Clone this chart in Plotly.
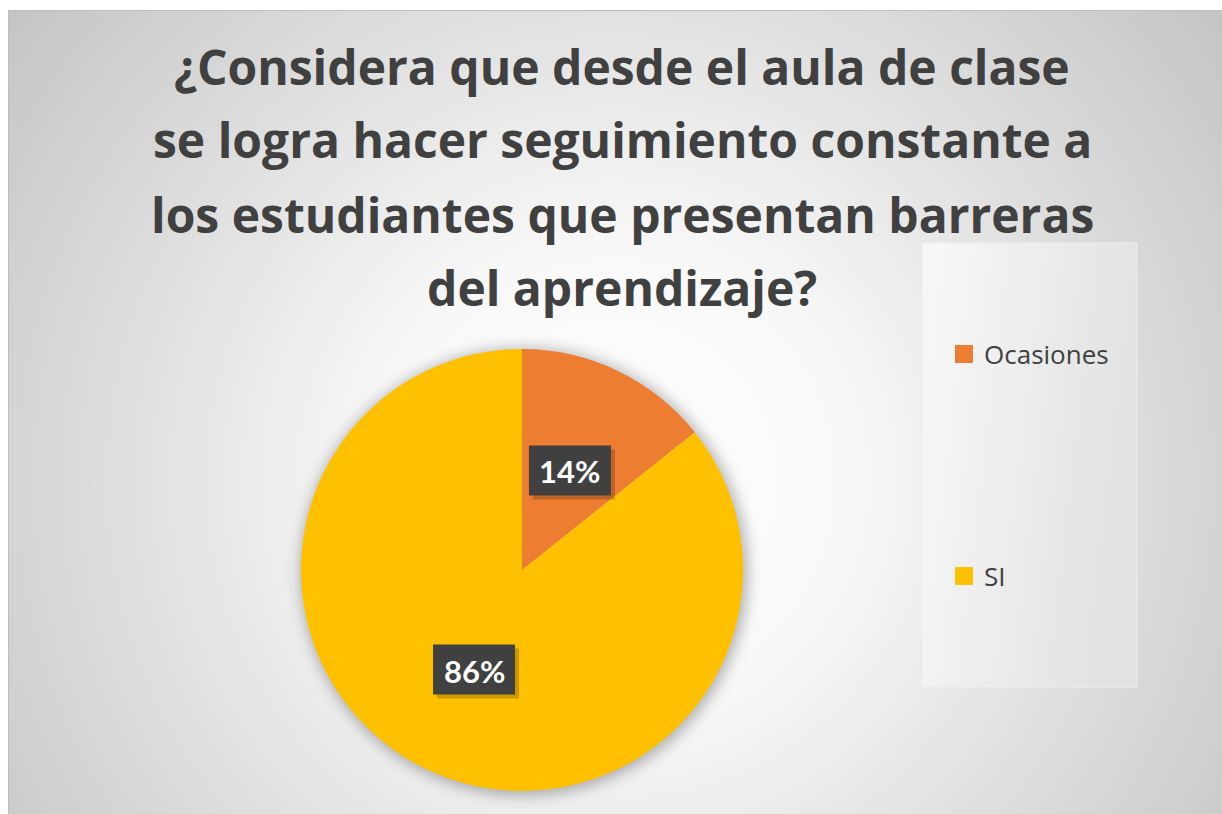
import base64
import math
import plotly.graph_objects as go

# ---- data ----
categories = ["Ocasiones", "SI"]
values = [1, 6]
colors = ["#ED7D31", "#FFC000"]
title_lines = [
    "¿Considera que desde el aula de clase",
    "se logra hacer seguimiento constante a",
    "los estudiantes que presentan barreras",
    "del aprendizaje?",
]

W, H = 1222, 814
CX, CY, R = 522, 570, 221  # pie centre / radius in pixels
TEXT = "#404040"

# ---- background (gradient card, legend box, pie shadow) as an SVG image ----
LX0, LY0, LX1, LY1 = 922, 243, 1137, 687
svg = f'''<svg xmlns="http://www.w3.org/2000/svg" width="{W}" height="{H}" viewBox="0 0 {W} {H}">
<defs>
<radialGradient id="bg" gradientUnits="userSpaceOnUse" cx="615" cy="480" r="770">
<stop offset="0" stop-color="#ffffff"/>
<stop offset="0.3" stop-color="#f8f8f8"/>
<stop offset="1" stop-color="#c4c4c4"/>
</radialGradient>
<linearGradient id="lg" x1="0" y1="0" x2="1" y2="0.25">
<stop offset="0" stop-color="#f8f8f8"/>
<stop offset="1" stop-color="#e2e2e2"/>
</linearGradient>
<filter id="blur" x="-30%" y="-30%" width="160%" height="160%"><feGaussianBlur stdDeviation="7"/></filter>
<filter id="blur2" x="-30%" y="-30%" width="160%" height="160%"><feGaussianBlur stdDeviation="2"/></filter>
</defs>
<rect width="{W}" height="{H}" fill="#ffffff"/>
<rect x="8" y="10" width="{W-8}" height="{H-10}" fill="url(#bg)"/>
<line x1="8" y1="10.5" x2="{W}" y2="10.5" stroke="#bdbdbd" stroke-width="1"/>
<line x1="8.5" y1="10" x2="8.5" y2="{H}" stroke="#bdbdbd" stroke-width="1"/>
<rect x="{LX0}" y="{LY0}" width="{LX1-LX0}" height="{LY1-LY0}" fill="url(#lg)" stroke="#eeeeee" stroke-width="1"/>
<circle cx="{CX+2}" cy="{CY+2}" r="{R+3}" fill="rgba(0,0,0,0.28)" filter="url(#blur)"/>
</svg>'''
svg_uri = "data:image/svg+xml;base64," + base64.b64encode(svg.encode("utf-8")).decode("ascii")

fig = go.Figure()
fig.add_trace(go.Pie(
    labels=categories,
    values=values,
    marker=dict(colors=colors, line=dict(width=0)),
    sort=False,
    direction="clockwise",
    rotation=0,
    textinfo="none",
    hoverinfo="label+percent",
    showlegend=False,
    domain=dict(x=[(CX - R) / W, (CX + R) / W], y=[1 - (CY + R) / H, 1 - (CY - R) / H]),
))

annotations = []
shapes = []

# title lines
title_y = [67, 140, 214, 287]
for line, ty in zip(title_lines, title_y):
    annotations.append(dict(
        text=f"<b>{line}</b>", x=622 / W, y=1 - ty / H, xref="paper", yref="paper",
        xanchor="center", yanchor="middle", showarrow=False,
        font=dict(family="Open Sans", size=48, color=TEXT),
    ))

# data labels at mid-angle of each slice, half radius out, in dark boxes
BW, BH = 82, 50
total = sum(values)
cum = 0
for v in values:
    mid = (cum + v / 2) / total * 2 * math.pi
    cum += v
    px = CX + 0.5 * R * math.sin(mid)
    py = CY - 0.5 * R * math.cos(mid)
    pct = f"{round(100 * v / total)}%"
    # shadow
    shapes.append(dict(type="rect", xref="paper", yref="paper", layer="above",
                       x0=(px - BW / 2 + 4) / W, x1=(px + BW / 2 + 4) / W,
                       y0=1 - (py + BH / 2 + 4) / H, y1=1 - (py - BH / 2 + 4) / H,
                       fillcolor="rgba(0,0,0,0.2)", line=dict(width=0)))
    # box
    shapes.append(dict(type="rect", xref="paper", yref="paper", layer="above",
                       x0=(px - BW / 2) / W, x1=(px + BW / 2) / W,
                       y0=1 - (py + BH / 2) / H, y1=1 - (py - BH / 2) / H,
                       fillcolor="#404040", line=dict(width=0)))
    annotations.append(dict(text=f"<b>{pct}</b>", x=px / W, y=1 - (py + 1) / H,
                            xref="paper", yref="paper", xanchor="center", yanchor="middle",
                            showarrow=False,
                            font=dict(family="Lato", size=31, color="#ffffff")))

# legend (custom, entries spread vertically as in the original)
legend_y = [354, 576]
for cat, col, ly in zip(categories, colors, legend_y):
    shapes.append(dict(type="rect", xref="paper", yref="paper",
                       x0=955 / W, x1=973 / W, y0=1 - (ly + 9) / H, y1=1 - (ly - 9) / H,
                       fillcolor=col, line=dict(width=0)))
    annotations.append(dict(text=cat, x=982 / W, y=1 - ly / H, xref="paper", yref="paper",
                            xanchor="left", yanchor="middle", showarrow=False,
                            font=dict(family="Open Sans", size=26, color=TEXT)))

fig.update_layout(
    width=W, height=H, autosize=False,
    margin=dict(l=0, r=0, t=0, b=0),
    paper_bgcolor="#ffffff",
    plot_bgcolor="rgba(0,0,0,0)",
    images=[dict(source=svg_uri, xref="paper", yref="paper", x=0, y=1,
                 sizex=1, sizey=1, sizing="stretch", xanchor="left", yanchor="top",
                 layer="below")],
    annotations=annotations,
    shapes=shapes,
    showlegend=False,
)

fig.write_html("out.html", config={"displayModeBar": False},
               post_script="document.body.style.margin='0';")
